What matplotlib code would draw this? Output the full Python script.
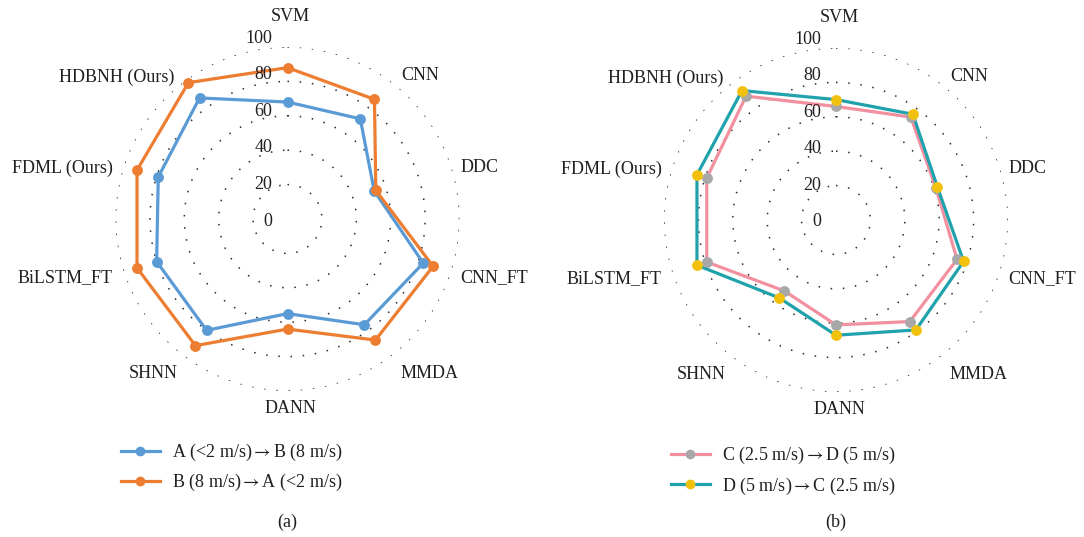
import numpy as np
import matplotlib
matplotlib.use("Agg")
import matplotlib.pyplot as plt
from matplotlib.lines import Line2D

# Methods compared on each radar axis (clockwise from the top)
categories = ["SVM", "CNN", "DDC", "CNN_FT", "MMDA", "DANN", "SHNN",
              "BiLSTM_FT", "FDML (Ours)", "HDBNH (Ours)"]

# Accuracy (%) for each transfer task
acc_a_to_b = [68, 72, 53, 83, 76, 55, 80, 80, 79, 87]
acc_b_to_a = [88, 86, 54, 89, 87, 64, 91, 92, 92, 98]
acc_c_to_d = [66, 74, 61, 74, 73, 61, 51, 79, 79, 89]
acc_d_to_c = [70, 76, 62, 78, 79, 67, 56, 85, 85, 93]

series_a = [r"A (<2 m/s)$\rightarrow$B (8 m/s)",
            r"B (8 m/s)$\rightarrow$A (<2 m/s)"]
series_b = [r"C (2.5 m/s)$\rightarrow$D (5 m/s)",
            r"D (5 m/s)$\rightarrow$C (2.5 m/s)"]
radial_ticks = [0, 20, 40, 60, 80, 100]
panel_titles = ["(a)", "(b)"]

plt.rcParams["font.family"] = ["Liberation Serif", "DejaVu Serif"]
plt.rcParams["mathtext.fontset"] = "stix"
TXT = "#231F20"
FS = 13

fig = plt.figure(figsize=(10.84, 5.37), dpi=100)

W, H = 1084, 537
R_PX = 172

# pixel nudges of each category label from the outer ring (dx, dy; +dy is up)
label_pad = [(3, 22), (13, 4), (9, -2), (9, -5), (12, -15),
             (3, -9), (-9, -15), (-11, -5), (-11, -2), (-12, 3)]


def polar_axes(cx, cy):
    rect = [(cx - R_PX) / W, (H - cy - R_PX) / H, 2 * R_PX / W, 2 * R_PX / H]
    ax = fig.add_axes(rect, projection="polar")
    ax.set_theta_zero_location("N")
    ax.set_theta_direction(-1)
    ax.set_ylim(0, 100)
    ax.spines["polar"].set_visible(False)
    ax.set_facecolor("none")
    return ax


def draw_radar(ax, vals1, vals2, style1, style2):
    n = len(categories)
    theta = np.linspace(0, 2 * np.pi, n, endpoint=False)
    ax.set_xticks(theta)
    ax.set_xticklabels([])
    ax.xaxis.grid(False)
    ax.set_yticks(radial_ticks[1:])
    ax.set_yticklabels([])
    ax.yaxis.grid(True, color="#2a2a2a", linewidth=1.1,
                  linestyle=(0, (1.0, 7.0)))
    ax.tick_params(length=0)

    tc = np.append(theta, theta[0])
    handles = []
    for vals, st in ((vals1, style1), (vals2, style2)):
        v = np.append(vals, vals[0])
        ax.plot(tc, v, color=st["line"], linewidth=2.3, zorder=3)
        ax.plot(theta, vals, linestyle="none", marker="o", markersize=6.8,
                markerfacecolor=st["marker"], markeredgecolor=st["marker"],
                zorder=4, clip_on=False)
        handles.append(Line2D([0], [0], color=st["line"], linewidth=2.3,
                              marker="o", markersize=6.0,
                              markerfacecolor=st["marker"],
                              markeredgecolor=st["marker"]))

    # radial scale labels, set just left of the vertical axis
    for v in radial_ticks:
        ax.annotate(str(v), xy=(0, v), xytext=(-15, -2 + 0.11 * v),
                    textcoords="offset pixels", ha="right", va="center",
                    fontsize=FS, color=TXT, annotation_clip=False)

    # category labels around the outside
    for ang, name, (dx, dy) in zip(theta, categories, label_pad):
        s, c = np.sin(ang), np.cos(ang)
        if abs(s) < 0.1:
            ha = "center"
            va = "bottom" if c > 0 else "top"
        else:
            ha = "left" if s > 0 else "right"
            va = "center"
        ax.annotate(name, xy=(ang, 100), xytext=(dx, dy),
                    textcoords="offset pixels", ha=ha, va=va,
                    fontsize=FS, color=TXT, annotation_clip=False)
    return handles


ax1 = polar_axes(287.5, 219)
h1 = draw_radar(ax1, acc_a_to_b, acc_b_to_a,
                {"line": "#5B9BD5", "marker": "#5B9BD5"},
                {"line": "#ED7D31", "marker": "#ED7D31"})

ax2 = polar_axes(836, 220)
h2 = draw_radar(ax2, acc_c_to_d, acc_d_to_c,
                {"line": "#F2909F", "marker": "#A8A8A8"},
                {"line": "#1FA2AC", "marker": "#F2C10E"})

leg_kw = dict(frameon=False, loc="center left", fontsize=FS,
              handlelength=2.15, handletextpad=0.7, labelspacing=0.5,
              borderpad=0, borderaxespad=0, labelcolor=TXT)
fig.legend(h1, series_a, bbox_to_anchor=(121 / W, 1 - 467.5 / H), **leg_kw)
fig.legend(h2, series_b, bbox_to_anchor=(671 / W, 1 - 471 / H), **leg_kw)

fig.text(287.5 / W, 1 - 522 / H, panel_titles[0], ha="center", va="center",
         fontsize=FS, color=TXT)
fig.text(836 / W, 1 - 522 / H, panel_titles[1], ha="center", va="center",
         fontsize=FS, color=TXT)

fig.savefig("out.png", dpi=100)
